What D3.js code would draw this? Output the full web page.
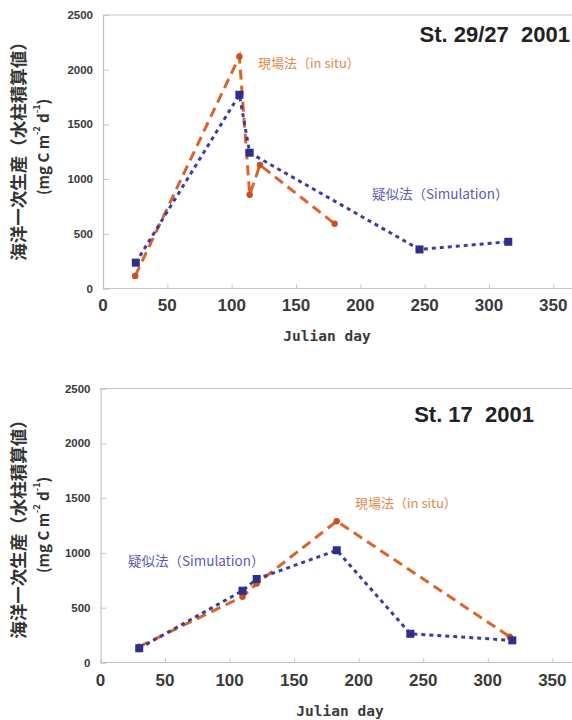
<!DOCTYPE html>
<html><head><meta charset="utf-8">
<script src="https://cdn.jsdelivr.net/npm/d3@7"></script>
<style>body{margin:0;background:#fff} svg{display:block}</style>
</head><body>
<script>
// ---- data ----
const xTicks = [0, 50, 100, 150, 200, 250, 300, 350];
const yTicks = [0, 500, 1000, 1500, 2000, 2500];
const xTitle = "Julian day";
const yTitle1 = "海洋一次生産（水柱積算値）";
const labelInSitu = "現場法（in situ）";
const labelSim = "疑似法（Simulation）";

const topTitle = "St. 29/27  2001";
const topInSituDays   = [25, 106, 114, 122, 180];
const topInSituValues = [115, 2120, 857, 1129, 592];
const topSimDays      = [25.5, 106, 114, 246, 315];
const topSimValues    = [236, 1771, 1241, 357, 427];

const bottomTitle = "St. 17  2001";
const bottomInSituDays   = [30, 110, 121, 183, 317];
const bottomInSituValues = [145, 600, 720, 1289, 235];
const bottomSimDays      = [30, 110, 121, 183, 240, 319];
const bottomSimValues    = [130, 655, 762, 1024, 262, 202];

// ---- layout ----
const W = 572, H = 720;
const ORANGE = "#d9652c", ORANGE_TXT = "#e08a4c", ORANGE_MK = "#c9501e";
const BLUE = "#3d3d9e", BLUE_TXT = "#5b5bb0", BLUE_MK = "#2e2e8c";
const AXIS = "#c4c4c4";

const panels = [
  { title: topTitle, inDays: topInSituDays, inVals: topInSituValues, simDays: topSimDays, simVals: topSimValues,
    left: 103, right: 572.6, top: 15, bottom: 288.5, xLabY: 311, xTitleX: 327, xTitleY: 341,
    titleX: 570, titleY: 42, inTxt: [258, 68], simTxt: [372, 199], yTitleY: 147 },
  { title: bottomTitle, inDays: bottomInSituDays, inVals: bottomInSituValues, simDays: bottomSimDays, simVals: bottomSimValues,
    left: 100.5, right: 571.7, top: 388.5, bottom: 662.5, xLabY: 686, xTitleX: 340, xTitleY: 716,
    titleX: 534, titleY: 422, inTxt: [355, 508], simTxt: [128, 566], yTitleY: 525 }
];

const svg = d3.select("body").append("svg").attr("width", W).attr("height", H);

panels.forEach(p => {
  const x = d3.scaleLinear().domain([0, 365]).range([p.left, p.right]);
  const y = d3.scaleLinear().domain([0, 2500]).range([p.bottom, p.top]);
  const g = svg.append("g");

  // frame
  g.append("line").attr("x1", p.left).attr("x2", W).attr("y1", p.top).attr("y2", p.top)
    .attr("stroke", AXIS).attr("stroke-width", 1.2);

  // y axis
  const yAx = g.append("g").attr("transform", `translate(${p.left},0)`)
    .call(d3.axisRight(y).tickValues(yTicks).tickSize(6).tickFormat(""));
  yAx.select(".domain").attr("stroke", AXIS).attr("stroke-width", 1.2);
  yAx.selectAll(".tick line").attr("stroke", AXIS);
  g.append("g").selectAll("text").data(yTicks).join("text")
    .attr("x", p.left - 10).attr("y", d => y(d)).attr("dy", "0.35em")
    .attr("text-anchor", "end")
    .attr("font-family", "'Liberation Sans Narrow','Arial Narrow','Liberation Sans',sans-serif")
    .attr("font-size", 11.5).attr("font-weight", "bold").attr("fill", "#3a3a3a")
    .text(d => d);

  // x axis
  const xAx = g.append("g").attr("transform", `translate(0,${p.bottom})`)
    .call(d3.axisTop(x).tickValues(xTicks).tickSize(4).tickFormat(""));
  xAx.select(".domain").remove();
  xAx.selectAll(".tick line").attr("stroke", AXIS);
  g.append("line").attr("x1", p.left).attr("x2", W).attr("y1", p.bottom).attr("y2", p.bottom)
    .attr("stroke", AXIS).attr("stroke-width", 1.2);
  g.append("g").selectAll("text").data(xTicks).join("text")
    .attr("x", d => x(d)).attr("y", p.xLabY).attr("text-anchor", "middle")
    .attr("font-family", "'Liberation Sans Narrow','Arial Narrow','Liberation Sans',sans-serif")
    .attr("font-size", 17).attr("font-weight", "bold").attr("fill", "#3a3a3a")
    .text(d => d);

  g.append("text").attr("x", p.xTitleX).attr("y", p.xTitleY).attr("text-anchor", "middle")
    .attr("font-family", "'DejaVu Sans Mono',monospace").attr("font-weight", "bold")
    .attr("font-size", 14.5).attr("fill", "#3a3a3a").text(xTitle);

  // y titles
  g.append("text").attr("transform", `translate(17,${p.yTitleY}) rotate(-90)`)
    .attr("text-anchor", "middle").attr("dominant-baseline", "central")
    .attr("font-family", "'Noto Sans CJK JP',sans-serif").attr("font-weight", "bold")
    .attr("font-size", 17.5).attr("fill", "#333").text(yTitle1);
  const t2 = g.append("text").attr("transform", `translate(42,${p.yTitleY}) rotate(-90)`)
    .attr("text-anchor", "middle").attr("dominant-baseline", "central")
    .attr("font-family", "'Noto Sans CJK JP',sans-serif").attr("font-weight", "bold")
    .attr("font-size", 15).attr("fill", "#333");
  t2.append("tspan").text("(mg C m");
  t2.append("tspan").attr("font-size", 9).attr("dy", -6).text("-2");
  t2.append("tspan").attr("dy", 6).text(" d");
  t2.append("tspan").attr("font-size", 9).attr("dy", -6).text("-1");
  t2.append("tspan").attr("dy", 6).text(")");

  // title
  g.append("text").attr("x", p.titleX).attr("y", p.titleY).attr("text-anchor", "end")
    .attr("font-family", "'Liberation Sans',Arial,sans-serif").attr("font-weight", "bold")
    .attr("font-size", 22).attr("fill", "#222").attr("xml:space", "preserve")
    .style("white-space", "pre").text(p.title);

  // lines
  const line = d3.line().x(d => x(d[0])).y(d => y(d[1]));
  const inData = p.inDays.map((d, i) => [d, p.inVals[i]]);
  const simData = p.simDays.map((d, i) => [d, p.simVals[i]]);

  g.append("path").datum(inData).attr("d", line).attr("fill", "none")
    .attr("stroke", ORANGE).attr("stroke-width", 3).attr("stroke-dasharray", "10,6");
  g.append("g").selectAll("circle").data(inData).join("circle")
    .attr("cx", d => x(d[0])).attr("cy", d => y(d[1])).attr("r", 3.2).attr("fill", ORANGE_MK);

  g.append("path").datum(simData).attr("d", line).attr("fill", "none")
    .attr("stroke", BLUE).attr("stroke-width", 3).attr("stroke-dasharray", "4,4");
  g.append("g").selectAll("rect").data(simData).join("rect")
    .attr("x", d => x(d[0]) - 4).attr("y", d => y(d[1]) - 4).attr("width", 8).attr("height", 8)
    .attr("fill", BLUE_MK);

  // annotations
  g.append("text").attr("x", p.inTxt[0]).attr("y", p.inTxt[1])
    .attr("font-family", "'Noto Sans CJK JP',sans-serif").attr("font-size", 13)
    .attr("fill", ORANGE_TXT).text(labelInSitu);
  g.append("text").attr("x", p.simTxt[0]).attr("y", p.simTxt[1])
    .attr("font-family", "'Noto Sans CJK JP',sans-serif").attr("font-size", 13.5)
    .attr("fill", BLUE_TXT).text(labelSim);
});
</script>
</body></html>
